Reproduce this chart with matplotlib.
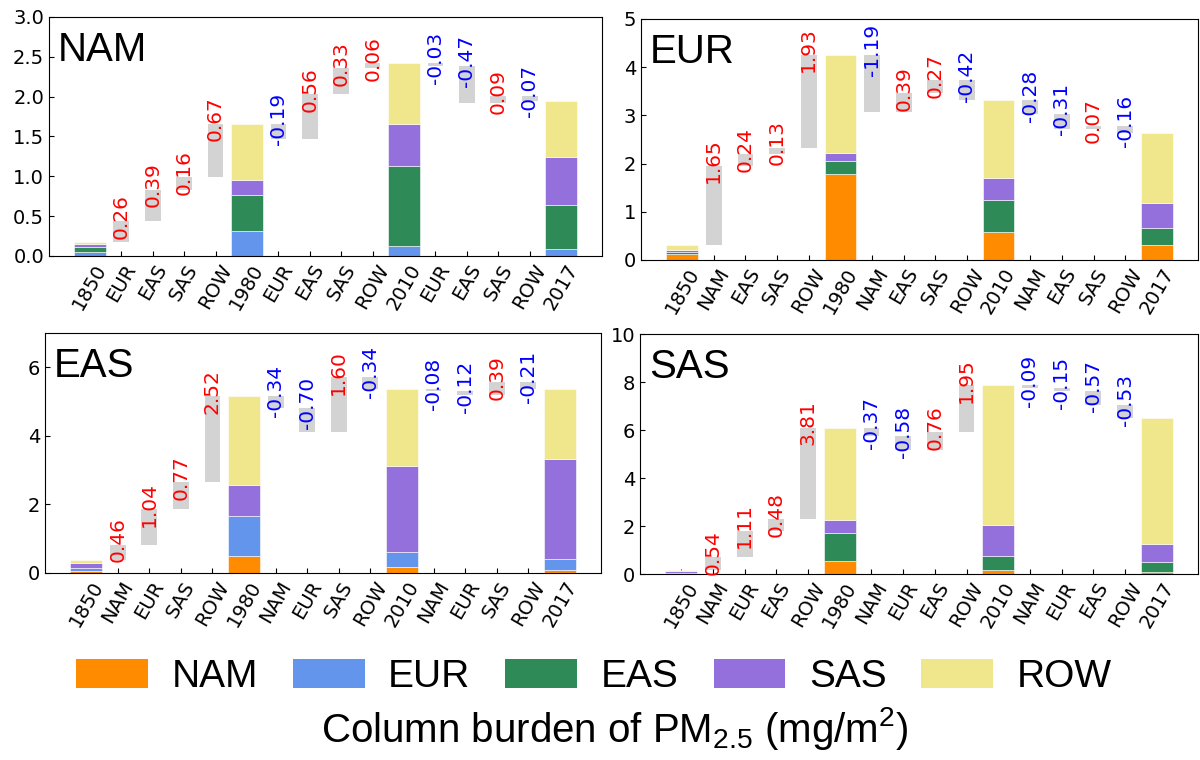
import matplotlib
matplotlib.use("Agg")
import matplotlib.pyplot as plt
from matplotlib.patches import Patch

plt.rcParams['mathtext.fontset'] = 'custom'
plt.rcParams['mathtext.rm'] = 'Liberation Sans'
plt.rcParams['mathtext.it'] = 'Liberation Sans:italic'
plt.rcParams['mathtext.bf'] = 'Liberation Sans:bold'

# ---------------- data ----------------
regions = ['NAM', 'EUR', 'EAS', 'SAS', 'ROW']
region_colors = ['#FF8C00', '#6495ED', '#2E8B57', '#9370DB', '#F0E68C']
years = ['1850', '1980', '2010', '2017']

# NAM panel
nam_sources = ['EUR', 'EAS', 'SAS', 'ROW']
nam_colors = ['#6495ED', '#2E8B57', '#9370DB', '#F0E68C']
nam_1850 = [0.05, 0.065, 0.03, 0.035]
nam_d1980 = [0.26, 0.39, 0.16, 0.67]
nam_d2010 = [-0.19, 0.56, 0.33, 0.06]
nam_d2017 = [-0.03, -0.47, 0.09, -0.07]

# EUR panel
eur_sources = ['NAM', 'EAS', 'SAS', 'ROW']
eur_colors = ['#FF8C00', '#2E8B57', '#9370DB', '#F0E68C']
eur_1850 = [0.13, 0.035, 0.04, 0.105]
eur_d1980 = [1.65, 0.24, 0.13, 1.93]
eur_d2010 = [-1.19, 0.39, 0.27, -0.42]
eur_d2017 = [-0.28, -0.31, 0.07, -0.16]

# EAS panel
eas_sources = ['NAM', 'EUR', 'SAS', 'ROW']
eas_colors = ['#FF8C00', '#6495ED', '#9370DB', '#F0E68C']
eas_1850 = [0.05, 0.105, 0.145, 0.07]
eas_d1980 = [0.46, 1.04, 0.77, 2.52]
eas_d2010 = [-0.34, -0.70, 1.60, -0.34]
eas_d2017 = [-0.08, -0.12, 0.39, -0.21]

# SAS panel
sas_sources = ['NAM', 'EUR', 'EAS', 'ROW']
sas_colors = ['#FF8C00', '#2E8B57', '#9370DB', '#F0E68C']
sas_1850 = [0.01, 0.05, 0.045, 0.055]
sas_d1980 = [0.54, 1.11, 0.48, 3.81]
sas_d2010 = [-0.37, -0.58, 0.76, 1.95]
sas_d2017 = [-0.09, -0.15, -0.57, -0.53]

panels = [
    dict(name='NAM', sources=nam_sources, colors=nam_colors, base=nam_1850,
         deltas=[nam_d1980, nam_d2010, nam_d2017], ylim=(0, 3.0),
         yticks=[0.0, 0.5, 1.0, 1.5, 2.0, 2.5, 3.0], yfmt='{:.1f}',
         pos=[49, 17, 602, 256]),
    dict(name='EUR', sources=eur_sources, colors=eur_colors, base=eur_1850,
         deltas=[eur_d1980, eur_d2010, eur_d2017], ylim=(0, 5),
         yticks=[0, 1, 2, 3, 4, 5], yfmt='{:d}',
         pos=[641, 19, 1198, 260]),
    dict(name='EAS', sources=eas_sources, colors=eas_colors, base=eas_1850,
         deltas=[eas_d1980, eas_d2010, eas_d2017], ylim=(0, 7),
         yticks=[0, 2, 4, 6], yfmt='{:d}',
         pos=[45, 333, 601, 573]),
    dict(name='SAS', sources=sas_sources, colors=sas_colors, base=sas_1850,
         deltas=[sas_d1980, sas_d2010, sas_d2017], ylim=(0, 10),
         yticks=[0, 2, 4, 6, 8, 10], yfmt='{:d}',
         pos=[640, 334, 1198, 574]),
]

W, H = 1200, 760
fig = plt.figure(figsize=(W / 100, H / 100), dpi=100)

for p in panels:
    l, t, r, b = p['pos']
    ax = fig.add_axes([l / W, 1 - b / H, (r - l) / W, (b - t) / H])
    labels = [years[0]]
    for k in range(3):
        labels += p['sources'] + [years[k + 1]]
    x = list(range(len(labels)))

    comps = list(p['base'])
    yr = (p['ylim'][1] - p['ylim'][0])

    def draw_stack(xpos, vals):
        bottom = 0.0
        for v, c in zip(vals, p['colors']):
            ax.bar(xpos, v, width=1.0, bottom=bottom, color=c,
                   edgecolor='white', linewidth=0.4, zorder=2)
            bottom += v

    draw_stack(x[0], comps)
    cur = sum(comps)
    xi = 1
    for k in range(3):
        for j, d in enumerate(p['deltas'][k]):
            lo = min(cur, cur + d)
            hi = max(cur, cur + d)
            ax.bar(x[xi], hi - lo, width=0.5, bottom=lo, color='#D3D3D3',
                   linewidth=0, zorder=1)
            ax.text(x[xi], hi + 0.02 * yr, '{:.2f}'.format(d), rotation=90,
                    ha='center', va='center', fontsize=14.5,
                    color='red' if d > 0 else 'blue', zorder=3)
            comps[j] += d
            cur += d
            xi += 1
        draw_stack(x[xi], comps)
        xi += 1

    ax.set_ylim(*p['ylim'])
    ax.set_yticks(p['yticks'])
    ax.set_yticklabels([p['yfmt'].format(v) for v in p['yticks']])
    ax.set_xticks(x)
    ax.set_xticklabels(labels, rotation=60)
    ax.tick_params(direction='in', labelsize=14, length=3.5)
    ax.text(0.016, 0.94, p['name'], transform=ax.transAxes, ha='left',
            va='top', fontsize=29, family='Liberation Sans', zorder=4)

handles = [Patch(facecolor=c, edgecolor='none', label=n)
           for n, c in zip(regions, region_colors)]
fig.legend(handles=handles, loc='center', bbox_to_anchor=(0.495, 1 - 677 / H),
           ncol=5, frameon=False, prop={'family': 'Liberation Sans', 'size': 28},
           handlelength=1.85, handleheight=0.75, handletextpad=0.6,
           columnspacing=0.9)

fig.text(0.512, 1 - 742 / H, r'Column burden of PM$_{\mathrm{2.5}}$ (mg/m$^{\mathrm{2}}$)',
         ha='center', va='baseline', fontsize=29, family='Liberation Sans')

fig.savefig('out.png', dpi=100)
